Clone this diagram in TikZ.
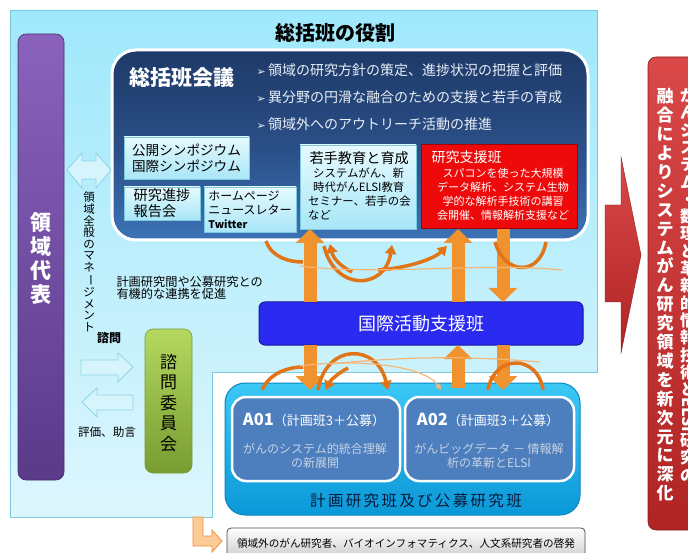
\documentclass[tikz,border=0pt]{standalone}
\usepackage{fontspec}
\usepackage{graphicx}
\setmainfont{Noto Sans CJK JP}
\newfontfamily\dejavu{DejaVu Sans}
\usetikzlibrary{arrows.meta}
\newcommand{\myfs}[2]{\fontsize{#1}{#2}\selectfont}
\newcommand{\vbar}{\rotatebox[origin=c]{-90}{ー}}
\definecolor{paneltop}{HTML}{9FE8FB}
\definecolor{panelbot}{HTML}{DDF6FD}
\definecolor{panelline}{HTML}{7CC8DC}
\definecolor{navytop}{HTML}{1E3A68}
\definecolor{navymid}{HTML}{2A4E86}
\definecolor{navybot}{HTML}{3C72B6}
\definecolor{lboxtop}{HTML}{E6FAFE}
\definecolor{lboxbot}{HTML}{A8E6F8}
\definecolor{lboxline}{HTML}{7CC8DC}
\definecolor{redA}{HTML}{EE0A0A}
\definecolor{redline}{HTML}{A00000}
\definecolor{orangeA}{HTML}{F0922E}
\definecolor{orangeC}{HTML}{E27418}
\definecolor{orangeL}{HTML}{F6B676}
\definecolor{kokusai}{HTML}{2A2AF0}
\definecolor{kokusailine}{HTML}{1818A0}
\definecolor{cyantop}{HTML}{3CC8F5}
\definecolor{cyanbot}{HTML}{0B98D8}
\definecolor{cyanline}{HTML}{0A86C4}
\definecolor{abox}{HTML}{4D7FBE}
\definecolor{asub}{HTML}{C6D2E4}
\definecolor{purptop}{HTML}{8A62BC}
\definecolor{purpbot}{HTML}{5B3A8A}
\definecolor{greentop}{HTML}{B4D860}
\definecolor{greenbot}{HTML}{789C30}
\definecolor{bigredtop}{HTML}{DA4848}
\definecolor{bigredbot}{HTML}{B02424}
\definecolor{darknavy}{HTML}{0A1A3A}
\definecolor{harrowfill}{HTML}{D6F4FC}
\definecolor{harrowline}{HTML}{8CD4E8}
\definecolor{peach}{HTML}{FCCB96}
\definecolor{peachline}{HTML}{F09040}
\definecolor{bullet}{HTML}{E8EEF6}
\tikzset{
  boxnw/.style={anchor=north west, inner sep=0pt, outer sep=0pt},
  lbox/.style={boxnw, draw=lboxline, line width=0.8pt, top color=lboxtop, bottom color=lboxbot},
  oarrow/.style={draw=orangeA, line width=13pt, -{Triangle[width=28pt,length=14pt]}},
  ocurve/.style={draw=orangeC, line width=3.5pt, -{Triangle[width=11pt,length=9pt]}},
  ocurvenh/.style={draw=orangeC, line width=3.5pt},
  othin/.style={draw=orangeL, line width=1.2pt},
  othinarr/.style={draw=orangeL, line width=1.2pt, -{Triangle[width=6pt,length=6pt]}},
  harrow/.style={draw=harrowline, fill=harrowfill, line width=0.8pt},
}
\begin{document}
\begin{tikzpicture}[x=1pt,y=-1pt]
\fill[white] (0,0) rectangle (688,553);
\useasboundingbox (0,0) rectangle (688,553);

% main light blue panel (L shape)
\path[draw=panelline, line width=0.8pt, top color=paneltop, bottom color=panelbot]
  (10,10) -- (597,10) -- (597,372) -- (212,372) -- (212,517) -- (10,517) -- cycle;

\node[font=\myfs{20}{24}\bfseries] (title) at (335,33) {総括班の役割};

% dark conference box
\node[boxnw, draw=white, line width=3pt, rounded corners=24pt,
  top color=navytop, bottom color=navybot, middle color=navymid,
  minimum width=476pt, minimum height=190pt] (kaigi) at (112,50) {};
\node[text=white, font=\myfs{21}{24}\bfseries] (kaigiT) at (182,78) {総括班会議};
\node[anchor=west, text=bullet, font=\myfs{14}{16}] (b1) at (253,70)
  {{\dejavu\myfs{11}{13}➢}\,領域の研究方針の策定、進捗状況の把握と評価};
\node[anchor=west, text=bullet, font=\myfs{14}{16}] (b2) at (253,97)
  {{\dejavu\myfs{11}{13}➢}\,異分野の円滑な融合のための支援と若手の育成};
\node[anchor=west, text=bullet, font=\myfs{14}{16}] (b3) at (253,124)
  {{\dejavu\myfs{11}{13}➢}\,領域外へのアウトリーチ活動の推進};

% small boxes
\node[lbox, minimum width=125pt, minimum height=42pt, align=left, font=\myfs{13.6}{16}] (sympo) at (124,137)
  {公開シンポジウム\\国際シンポジウム};
\node[lbox, minimum width=76pt, minimum height=33pt, align=left, font=\myfs{14.2}{16}] (shinchoku) at (124,187)
  {研究進捗\\報告会};
\node[lbox, minimum width=92pt, minimum height=45pt, align=left, font=\myfs{12}{14}] (hp) at (204,187)
  {ホームページ\\ニュースレター\\{\bfseries\myfs{10.5}{14}Twitter}};
\node[lbox, minimum width=116pt, minimum height=84pt] (wakate) at (300,145) {};
\node[anchor=west, font=\myfs{14.2}{16}] (wakateT) at (306,158) {若手教育と育成};
\node[anchor=north west, align=left, font=\myfs{11.4}{14}, inner sep=0pt] (wakateS) at (308,168)
  {\hspace{5pt}システムがん、新\\\hspace{5pt}時代がんELSI教育\\セミナー、若手の会\\など};
\node[boxnw, draw=redline, line width=1pt, fill=redA, minimum width=156pt, minimum height=84pt] (shien) at (421,145) {};
\node[anchor=west, text=white, font=\myfs{14}{16}] (shienT) at (428,157) {研究支援班};
\node[anchor=north, align=center, text=white, font=\myfs{11}{14}, inner sep=0pt] (shienS) at (503,168)
  {スパコンを使った大規模\\データ解析、システム生物\\学的な解析手技術の講習\\会開催、情報解析支援など};

% kokusai box
\node[boxnw, draw=kokusailine, line width=1pt, fill=kokusai, rounded corners=6pt,
  minimum width=324pt, minimum height=43pt] (kokusaiB) at (259,302) {};
\node[text=white, font=\myfs{18}{20}] (kokusaiT) at (kokusaiB.center) {国際活動支援班};

% bottom cyan box and A01/A02
\node[boxnw, draw=cyanline, line width=1pt, rounded corners=20pt, top color=cyantop, bottom color=cyanbot,
  minimum width=355pt, minimum height=132pt] (research) at (225,383) {};
\node[boxnw, draw=white, line width=2.5pt, rounded corners=14pt, fill=abox,
  minimum width=168pt, minimum height=84pt] (a01) at (232,397) {};
\node[boxnw, draw=white, line width=2.5pt, rounded corners=14pt, fill=abox,
  minimum width=169pt, minimum height=84pt] (a02) at (405,397) {};
\node[text=white, font=\myfs{13}{16}] (a01T) at (314,420) {{\bfseries\myfs{16.5}{18}A01}（計画班3＋公募）};
\node[text=white, font=\myfs{13}{16}] (a02T) at (488,420) {{\bfseries\myfs{16.5}{18}A02}（計画班3＋公募）};
\node[text=asub, align=center, font=\myfs{12}{14}] (a01S) at (315,456) {がんのシステム的統合理解\\の新展開};
\node[text=asub, align=center, font=\myfs{12}{14}] (a02S) at (489,456) {がんビッグデータ － 情報解\\析の革新とELSI};
\node[text=darknavy, font=\myfs{15.5}{18}\addfontfeatures{LetterSpace=15}] (researchT) at (416,501) {計画研究班及び公募研究班};

% bottom banner
\node[boxnw, draw=black!70, line width=0.8pt, rounded corners=4pt, top color=white, bottom color=black!22,
  minimum width=358pt, minimum height=34pt] (banner) at (227,528) {};
\node[font=\myfs{10.6}{12}] (bannerT) at (406,543) {領域外のがん研究者、バイオインフォマティクス、人文系研究者の啓発};
\path[draw=peachline, fill=peach, line width=0.8pt]
  (193,517) -- (203,517) -- (203,536) -- (212,536) -- (212,530) -- (222,541) -- (212,552) -- (212,546) -- (193,546) -- cycle;

% orange vertical arrows (top)
\coordinate (xA) at (310,0);
\coordinate (xB) at (458,0);
\coordinate (xC) at (503,0);
\draw[oarrow] (kokusaiB.north -| xA) -- (wakate.south -| xA);
\draw[oarrow] (kokusaiB.north -| xB) -- (shien.south -| xB);
\draw[oarrow] (shien.south -| xC) -- (kokusaiB.north -| xC);
% orange vertical arrows (bottom)
\draw[oarrow] (kokusaiB.south -| xA) -- ([yshift=-7pt]research.north -| xA);
\draw[oarrow] ([yshift=-5pt]research.north -| xB) -- (kokusaiB.south -| xB);
\draw[oarrow] (kokusaiB.south -| xC) -- ([yshift=-7pt]research.north -| xC);

% curved arrows (top)
\draw[ocurvenh] (266,241) .. controls (272,258) and (290,262) .. (303,262);
\draw[ocurve] (324,246) .. controls (335,292) and (385,290) .. (392,245);
\draw[ocurve] (352,272) .. controls (340,266) and (333,258) .. (330,244);
\draw[ocurve] (378,270) .. controls (410,268) and (435,258) .. (447,246);
\draw[ocurvenh] (495,242) .. controls (505,276) and (540,276) .. (546,242);
\draw[othin] (300,266) .. controls (380,276) and (480,262) .. (562,270);
% curved arrows (bottom)
\draw[ocurvenh] (262,390) .. controls (270,372) and (290,367) .. (303,367);
\draw[ocurve] (318,390) .. controls (326,343) and (377,343) .. (388,390);
\draw[ocurve] (348,368) .. controls (338,373) and (330,381) .. (326,390);
\draw[othinarr] (300,366) .. controls (360,358) and (425,366) .. (441,390);
\draw[othin] (330,364) .. controls (420,355) and (480,357) .. (540,362);
\draw[ocurvenh] (488,390) .. controls (494,354) and (538,354) .. (543,390);

% left side: purple bar
\node[boxnw, draw=purpbot!80!black, line width=0.6pt, rounded corners=8pt, top color=purptop, bottom color=purpbot,
  minimum width=46pt, minimum height=446pt] (rep) at (18,34) {};
\node[text=white, align=center, font=\myfs{21}{24}\bfseries] (repT) at (41,258) {領\\域\\代\\表};

% double arrow rep <-> kaigi
\path[harrow] (67,170) -- (82,153) -- (82,161) -- (96,161) -- (96,153) -- (111,170) -- (96,188) -- (96,179) -- (82,179) -- (82,188) -- cycle;
\node[align=center, font=\myfs{11.5}{11.6}] (manage) at (89,262)
  {領\\域\\全\\般\\の\\マ\\ネ\\\vbar\\ジ\\メ\\ン\\ト};
\node[anchor=west, align=left, font=\myfs{12.2}{12.5}] (renkei) at (113,288) {計画研究間や公募研究との\\有機的な連携を促進};

% advisory committee
\node[font=\myfs{12}{14}\bfseries] (shimonL) at (109,338) {諮問};
\path[harrow] (81,360) -- (118,360) -- (118,353) -- (133,367) -- (118,382) -- (118,375) -- (81,375) -- cycle;
\path[harrow] (133,395) -- (97,395) -- (97,388) -- (82,402) -- (97,417) -- (97,410) -- (133,410) -- cycle;
\node[font=\myfs{11.6}{14}] (hyoka) at (107,432) {評価、助言};
\node[boxnw, draw=greenbot, line width=0.6pt, rounded corners=8pt, top color=greentop, bottom color=greenbot,
  minimum width=47pt, minimum height=144pt] (shimon) at (145,329) {};
\node[align=center, font=\myfs{17}{20.5}] (shimonT) at (168.5,403) {諮\\問\\委\\員\\会};

% big red arrow and right box
\path[top color=bigredtop, bottom color=bigredbot, draw=bigredbot!80!black, line width=0.4pt]
  (605,205) -- (621,205) -- (621,157) -- (641,255) -- (621,353) -- (621,302) -- (605,302) -- cycle;
\node[boxnw, draw=bigredbot!80!black, line width=0.6pt, rounded corners=8pt, top color=bigredtop, bottom color=bigredbot,
  minimum width=70pt, minimum height=473pt] (goal) at (648,57) {};
\node[text=white, align=center, font=\myfs{17}{18.9}\bfseries] (goalL) at (665,295)
  {融\\合\\に\\よ\\り\\シ\\ス\\テ\\ム\\が\\ん\\研\\究\\領\\域\\を\\新\\次\\元\\に\\深\\化};
\node[text=white, align=center, font=\myfs{16}{17.3}\bfseries, anchor=north] (goalR) at (688,84)
  {が\\ん\\シ\\ス\\テ\\ム\\・\\数\\理\\と\\革\\新\\的\\情\\報\\技\\術\\と\\\rotatebox[origin=c]{-90}{ELSI}\\研\\究\\の};
\end{tikzpicture}
\end{document}
